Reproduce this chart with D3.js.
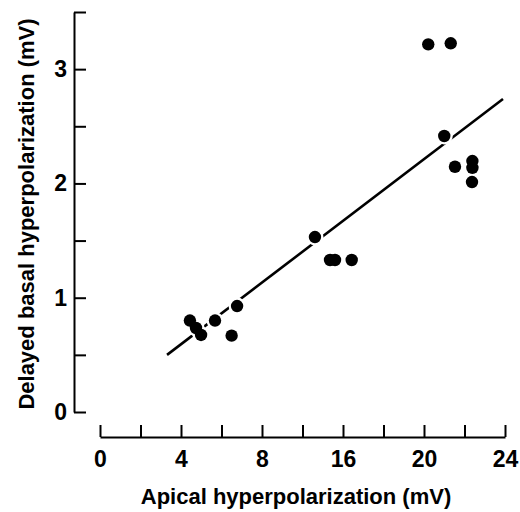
<!DOCTYPE html>
<html>
<head>
<meta charset="utf-8">
<script src="https://cdn.jsdelivr.net/npm/d3@7"></script>
<style>
  html, body { margin: 0; padding: 0; background: #fff; }
  svg { display: block; }
  text { font-family: "Liberation Sans", Arial, sans-serif; font-weight: bold; fill: #000; }
</style>
</head>
<body>
<div id="chart"></div>
<script>
// Data (apical mV, delayed basal mV)
const apical = [4.44, 4.74, 4.99, 5.68, 6.77, 6.50, 13.23, 14.72, 15.21, 16.43, 20.21, 21.32, 21.0, 21.53, 22.39, 22.39, 22.37];
const basal  = [0.80, 0.735, 0.674, 0.80, 0.927, 0.668, 1.531, 1.33, 1.33, 1.33, 3.217, 3.226, 2.415, 2.146, 2.196, 2.137, 2.012];
const fitX = [3.31, 23.9];
const fitY = [0.50, 2.738];

// Axis tick values / labels (as printed on the figure)
const xLabelValues = [0, 4, 8, 16, 20, 24];
const xTickValues = [0, 2, 4, 6, 8, 12, 16, 18, 20, 22, 24];
const yTickValues = [0, 0.5, 1, 1.5, 2, 2.5, 3, 3.5];
const yLabelValues = [0, 1, 2, 3];

const W = 520, H = 512;
const svg = d3.select("#chart").append("svg").attr("width", W).attr("height", H);

// The printed x-axis labels are evenly spaced: 0,4,8,16,20,24
const x = d3.scaleLinear().domain(xLabelValues).range([100, 181, 262, 343, 424, 505]);
const y = d3.scaleLinear().domain([0, 3.5]).range([412, 12]);

// Y axis
const yAxis = d3.axisLeft(y)
  .tickValues(yTickValues)
  .tickSizeInner(-12).tickSizeOuter(0).tickPadding(6)
  .tickFormat(d => yLabelValues.includes(d) ? d3.format("d")(d) : "");
const gy = svg.append("g").attr("transform", "translate(74,0)").call(yAxis);
gy.select(".domain").attr("stroke", "#000").attr("stroke-width", 2);
gy.selectAll(".tick line").attr("stroke", "#000").attr("stroke-width", 2);
gy.selectAll(".tick text").style("font-size", "23px").style("font-family", "Liberation Sans, Arial, sans-serif").style("font-weight", "bold").attr("dx", "-1");

// X axis
const xAxis = d3.axisBottom(x)
  .tickValues(xTickValues)
  .tickSizeInner(-12).tickSizeOuter(0).tickPadding(14)
  .tickFormat(d => xLabelValues.includes(d) ? d3.format("d")(d) : "");
const gx = svg.append("g").attr("transform", "translate(0,437)").call(xAxis);
gx.select(".domain").attr("stroke", "#000").attr("stroke-width", 2);
gx.selectAll(".tick line").attr("stroke", "#000").attr("stroke-width", 2);
gx.selectAll(".tick text").style("font-size", "23px").style("font-family", "Liberation Sans, Arial, sans-serif").style("font-weight", "bold");

// Regression line
const line = d3.line().x(d => x(d[0])).y(d => y(d[1]));
svg.append("path")
  .datum(d3.zip(fitX, fitY))
  .attr("d", line)
  .attr("fill", "none").attr("stroke", "#000").attr("stroke-width", 2.6);

// Points with white halo (gaps in the line)
const pts = d3.zip(apical, basal);
svg.append("g").selectAll("circle.halo").data(pts).join("circle")
  .attr("cx", d => x(d[0])).attr("cy", d => y(d[1])).attr("r", 8.5).attr("fill", "#fff");
svg.append("g").selectAll("circle.pt").data(pts).join("circle")
  .attr("cx", d => x(d[0])).attr("cy", d => y(d[1])).attr("r", 6.2).attr("fill", "#000");

// Axis titles
svg.append("text")
  .attr("x", 296).attr("y", 504).attr("text-anchor", "middle")
  .style("font-size", "22px")
  .text("Apical hyperpolarization (mV)");
svg.append("text")
  .attr("transform", "translate(34,214) rotate(-90)")
  .attr("text-anchor", "middle")
  .style("font-size", "22px")
  .text("Delayed basal hyperpolarization (mV)");
</script>
</body>
</html>
